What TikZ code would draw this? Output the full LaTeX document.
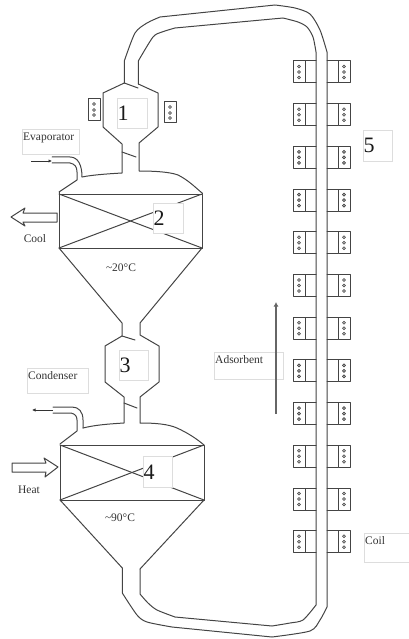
\documentclass[tikz,border=0pt]{standalone}
\usepackage{fontspec}
\setmainfont{Liberation Serif}
\usetikzlibrary{arrows.meta}
\definecolor{ln}{HTML}{444444}
\definecolor{bx}{HTML}{DDDDDD}
\definecolor{tx}{HTML}{333333}
\tikzset{
  pipe/.style={draw=ln,line width=1pt,line join=round,line cap=round},
  flow/.style={draw=black!80,line width=0.7pt,-{Latex[length=3.5pt,width=3.5pt]}},
  lblbox/.style={draw=bx,fill=white,line width=0.8pt,inner sep=0pt,anchor=north west},
  lbl/.style={text=tx,font=\fontsize{11.5}{12}\selectfont,inner sep=1pt},
  toplbl/.style={lbl,anchor=north west,yshift=-2.5pt},
  dig/.style={text=black!90,font=\fontsize{22}{24}\selectfont,inner sep=0.5pt,anchor=west},
  dot/.style={draw=ln,fill=gray!45,line width=0.6pt}
}
\newcommand{\lblbox}[5]{\node[lblbox,minimum width=#4pt,minimum height=#5pt] (#1) at (#2,#3) {};}
\begin{document}
\begin{tikzpicture}[x=1pt,y=-1pt]
\useasboundingbox (0,0) rectangle (408,639);
% loop pipe
\draw[pipe] (124.3,83) -- (124.3,61) plot[smooth,tension=.45] coordinates {(124.3,61) (135,33) (147,23) (160,17)} -- (275,5)
  plot[smooth,tension=.45] coordinates {(275,5) (295,8) (310,14) (320,30) (327,52)} -- (327,607)
  plot[smooth,tension=.45] coordinates {(327,607) (320,620) (310,631) (272,637)} -- (172,627)
  plot[smooth,tension=.45] coordinates {(172,627) (147,622) (137,615) (122.3,593)} -- (122.3,568);
\draw[pipe] (138.3,84) -- (138.3,61) plot[smooth,tension=.45] coordinates {(138.3,61) (153,37) (162,32) (175,28)} -- (283,18)
  plot[smooth,tension=.45] coordinates {(283,18) (298,22) (307,27) (313,37) (316,52)} -- (316,605)
  plot[smooth,tension=.45] coordinates {(316,605) (303,620) (290,623) (272,626)} -- (175,617)
  plot[smooth,tension=.45] coordinates {(175,617) (157,610) (148,603) (140,594)} -- (140,569);
% vessel 1 and upper shell
\draw[pipe] (124.3,83) -- (103,93) -- (103,127) -- (122,144) -- (122,173) .. controls (105,174) and (92,175) .. (82,177);
\draw[pipe] (138.3,84) -- (158,93) -- (158,127) -- (139,143) -- (139,171) .. controls (155,171) and (170,172) .. (178,175) .. controls (188,180) and (195,187) .. (202,193);
\draw[pipe] (124.3,83) -- (138,88);
\draw[pipe] (122,152) -- (136,157);
% evaporator stub
\draw[pipe] (52,157) -- (70,157) .. controls (78,157) and (82,165) .. (82,177);
\draw[pipe] (52,163) -- (70,163) .. controls (75,164) and (77,167) .. (77,172) -- (77,180) -- (59,192);
% reactor 2
\draw[pipe] (59,194) rectangle (202,248);
\draw[pipe] (59,192) -- (59,194);
\draw[pipe] (202,193) -- (202,194);
\draw[pipe] (59,194) -- (202,248);
\draw[pipe] (59,248) -- (202,194);
% cone and vessel 3
\draw[pipe] (59,248) -- (122,323) -- (122,336) -- (105,346) -- (105,382) -- (124,397) -- (124,423) .. controls (108,424) and (95,425) .. (83,428);
\draw[pipe] (202,248) -- (140,323) -- (140,335) -- (159,346) -- (159,382) -- (140,397) -- (140,423) .. controls (155,423) and (168,424) .. (177,428) .. controls (188,433) and (197,439) .. (204,445);
\draw[pipe] (122,336) -- (135,340);
\draw[pipe] (124,403) -- (137,408);
% condenser stub
\draw[pipe] (53,407) -- (72,407) .. controls (79,407) and (83,412) .. (83,420) -- (83,428);
\draw[pipe] (53,413) -- (71,413) .. controls (75,414) and (77,416) .. (77,420) -- (77,431) -- (60,444);
% reactor 4
\draw[pipe] (60,445) rectangle (204,500);
\draw[pipe] (60,445) -- (204,500);
\draw[pipe] (60,500) -- (204,445);
\draw[pipe] (60,500) -- (122.3,568);
\draw[pipe] (204,500) -- (140,569);
% coils at vessel 1
\draw[pipe] (88,99) rectangle (100,121);
\foreach \y in {104,110,115} \draw[dot] (94,\y) circle (1.5);
\draw[pipe] (164,102) rectangle (176,123);
\foreach \y in {107,113,118} \draw[dot] (170,\y) circle (1.5);
% coils along riser
\foreach \t in {61,103.7,146.4,189.1,231.8,274.5,317.2,359.9,402.6,445.3,488,530.7}{
  \draw[pipe] (293,\t) rectangle +(12,22);
  \draw[pipe] (305,\t) -- (316,\t) (305,\t+22) -- (316,\t+22);
  \draw[pipe] (338,\t) rectangle +(12,22);
  \draw[pipe] (327,\t) -- (338,\t) (327,\t+22) -- (338,\t+22);
  \foreach \d in {5.5,11,16.5}{
    \draw[dot] (299,\t+\d) circle (1.5);
    \draw[dot] (344,\t+\d) circle (1.5);
  }
}
% block arrows
\draw[pipe] (57,213) -- (23,213) -- (25,208) -- (11,217) -- (25,226) -- (23,222) -- (57,222) -- cycle;
\draw[pipe] (12,463) -- (46,463) -- (44,458) -- (58,467) -- (45,477) -- (46,472) -- (12,472) -- cycle;
% label boxes
\lblbox{bE}{22}{129}{57}{25}
\lblbox{bC}{27}{368}{61}{25}
\lblbox{bA}{214}{352}{69}{27}
\lblbox{bK}{364}{533}{46}{29}
\lblbox{b1}{117}{98}{30}{30}
\lblbox{b2}{153}{203}{30}{30}
\lblbox{b3}{119}{350}{29}{30}
\lblbox{b4}{143}{456}{29}{31}
\lblbox{b5}{363}{130}{29}{31}
\node[toplbl] (tE) at (bE.north west) {Evaporator};
\node[toplbl] (tC) at (bC.north west) {Condenser};
\node[toplbl] (tA) at (bA.north west) {Adsorbent};
\node[toplbl] (tK) at (bK.north west) {Coil};
\node[dig] (d1) at (b1.west) {1};
\node[dig] (d2) at (b2.west) {2};
\node[dig] (d3) at (b3.west) {3};
\node[dig] (d4) at (b4.west) {4};
\node[dig] (d5) at (b5.west) {5};
\node[lbl] (tCool) at (35,239) {Cool};
\node[lbl] (tHeat) at (29,490) {Heat};
\node[lbl] (t20) at (121,268) {\char`\~20°C};
\node[lbl] (t90) at (120,518) {\char`\~90°C};
% flow arrows
\coordinate (e1) at (31,161); \coordinate (e2) at (52,161);
\draw[flow] (e1) -- (e2);
\coordinate (c1) at (53,410); \coordinate (c2) at (32,410);
\draw[flow] (c1) -- (c2);
\coordinate (a1) at (276,414); \coordinate (a2) at (276,302);
\draw[draw=black!60,line width=1.2pt,-{Latex[length=4.5pt,width=5pt]}] (a1) -- (a2);
\end{tikzpicture}
\end{document}
